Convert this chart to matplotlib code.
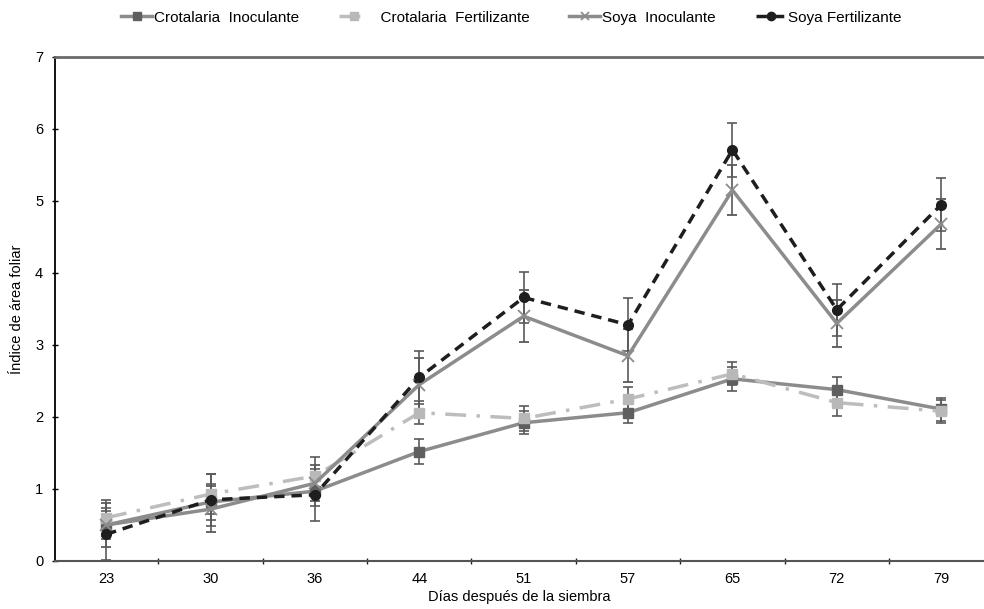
import matplotlib.pyplot as plt
from matplotlib.lines import Line2D
import numpy as np

plt.rcParams['font.family'] = ['Liberation Sans', 'DejaVu Sans']

dias = ["23", "30", "36", "44", "51", "57", "65", "72", "79"]

crot_inoc = [0.50, 0.82, 0.97, 1.52, 1.92, 2.06, 2.53, 2.38, 2.11]
crot_fert = [0.60, 0.93, 1.18, 2.06, 1.98, 2.25, 2.60, 2.20, 2.08]
soya_inoc = [0.50, 0.72, 1.08, 2.45, 3.40, 2.85, 5.15, 3.30, 4.68]
soya_fert = [0.37, 0.85, 0.92, 2.55, 3.66, 3.28, 5.71, 3.49, 4.95]

err_crot_inoc = [0.20, 0.25, 0.20, 0.17, 0.16, 0.15, 0.17, 0.17, 0.16]
err_crot_fert = [0.25, 0.28, 0.26, 0.16, 0.17, 0.17, 0.16, 0.18, 0.16]
err_soya_inoc = [0.30, 0.32, 0.25, 0.37, 0.36, 0.37, 0.35, 0.33, 0.35]
err_soya_fert = [0.36, 0.36, 0.36, 0.37, 0.36, 0.37, 0.37, 0.36, 0.37]

x = np.arange(len(dias))

fig = plt.figure(figsize=(9.84, 6.09), dpi=100)
ax = fig.add_axes([55/984, 48/609, 929/984, 504/609])

ek = dict(ecolor="#5a5a5a", elinewidth=1.2, capsize=3.5, capthick=1.2)

styles = [
    dict(color="#8c8c8c", lw=2.5, marker="s", ms=7, mfc="#5f5f5f", mec="#5f5f5f"),
    dict(color="#bdbdbd", lw=2.5, ls=(0, (6, 3, 1, 3)), marker="s", ms=7, mfc="#b8b8b8", mec="#b8b8b8"),
    dict(color="#8c8c8c", lw=2.5, marker="x", ms=8, mec="#8c8c8c", mew=1.3),
    dict(color="#1e1e1e", lw=2.5, ls=(0, (3, 2)), marker="o", ms=7, mfc="#1e1e1e", mec="#1e1e1e"),
]
labels = ["Crotalaria  Inoculante", "  Crotalaria  Fertilizante", "Soya  Inoculante", "Soya Fertilizante"]
series = [crot_inoc, crot_fert, soya_inoc, soya_fert]
errs = [err_crot_inoc, err_crot_fert, err_soya_inoc, err_soya_fert]

for y, e, st in zip(series, errs, styles):
    ax.errorbar(x, y, yerr=e, **st, **ek)

# legend handles without the error bars, slightly smaller markers
handles = [Line2D([], [], **{**st, "ms": 6}) for st in styles]

ax.set_xlim(-0.49, 8.41)
ax.set_ylim(0, 7)
ax.set_xticks(x)
ax.set_xticklabels(dias)
ax.set_xticks(np.arange(0.5, 8, 1), minor=True)
ax.tick_params(axis="x", which="major", length=0, labelsize=10.5, pad=8)
ax.tick_params(axis="x", which="minor", length=5, direction="inout", width=1, color="#222222")
ax.tick_params(axis="y", length=5, direction="inout", width=1, labelsize=10.5, pad=6)

ax.spines["right"].set_visible(False)
ax.spines["top"].set_color("#6a6a6a")
ax.spines["top"].set_linewidth(2)
ax.spines["left"].set_color("black")
ax.spines["left"].set_linewidth(1.3)
ax.spines["bottom"].set_color("#555555")
ax.spines["bottom"].set_linewidth(1.5)

ax.set_xlabel("Días después de la siembra", fontsize=10.5, labelpad=3)
ax.set_ylabel("Índice de área foliar", fontsize=10.5, labelpad=8)

fig.legend(handles, labels, loc="upper center", bbox_to_anchor=(0.52, 1.005), ncol=4, frameon=False,
           fontsize=11, handlelength=2.0, handletextpad=0.15, columnspacing=2.6)

fig.savefig("out.png", dpi=100)
